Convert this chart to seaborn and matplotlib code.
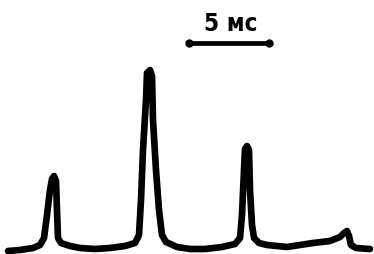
import matplotlib
matplotlib.use("Agg")
import matplotlib.pyplot as plt
import seaborn as sns
import pandas as pd

# hand-drawn trace (time axis in drawing units, amplitude downward)
trace_t = [8, 20, 33, 40, 44, 47, 50, 52, 54, 56, 57, 58, 61, 70, 80, 95,
           110, 125, 135, 139, 141, 143, 146, 147, 150, 152, 153, 156, 159, 162, 166, 177,
           190, 205, 222, 235, 240, 242, 244, 245, 247, 249, 250, 252, 254, 259, 267, 287,
           313, 330, 340, 344, 347, 349, 351, 356, 370]
trace_v = [251, 250, 248, 245, 238, 215, 190, 179, 176, 181, 210, 238, 243, 246, 248, 249,
           248, 246, 243, 235, 200, 150, 100, 73, 70, 76, 120, 170, 210, 235, 242, 247,
           249, 249, 247, 244, 238, 215, 170, 149, 146, 150, 190, 225, 238, 243, 245, 247,
           243, 241, 237, 233, 231, 236, 245, 248, 249]

# scale bar: 5 ms
bar_t = [189, 269]
bar_v = [43, 43]
bar_label = "5 мс"

df = pd.DataFrame({"t": trace_t, "v": trace_v})

sns.set_style("white")
fig = plt.figure(figsize=(3.74, 2.54), dpi=100)
ax = fig.add_axes([0, 0, 1, 1])

sns.lineplot(data=df, x="t", y="v", sort=False, estimator=None, color="black",
             linewidth=4.8, ax=ax)
for line in ax.lines:
    line.set_solid_joinstyle("round")
    line.set_solid_capstyle("round")

ax.plot(bar_t, bar_v, color="black", linewidth=3.4, solid_capstyle="round")
ax.plot(bar_t, bar_v, "o", color="black", markersize=5)
ax.text(231, 24, bar_label, ha="center", va="center", fontsize=17.5,
        fontweight="heavy", fontstretch="condensed", color="black")

ax.set_xlim(0, 374)
ax.set_ylim(254, 0)
ax.set_xlabel("")
ax.set_ylabel("")
ax.axis("off")

fig.savefig("out.png", dpi=100, facecolor="white")
